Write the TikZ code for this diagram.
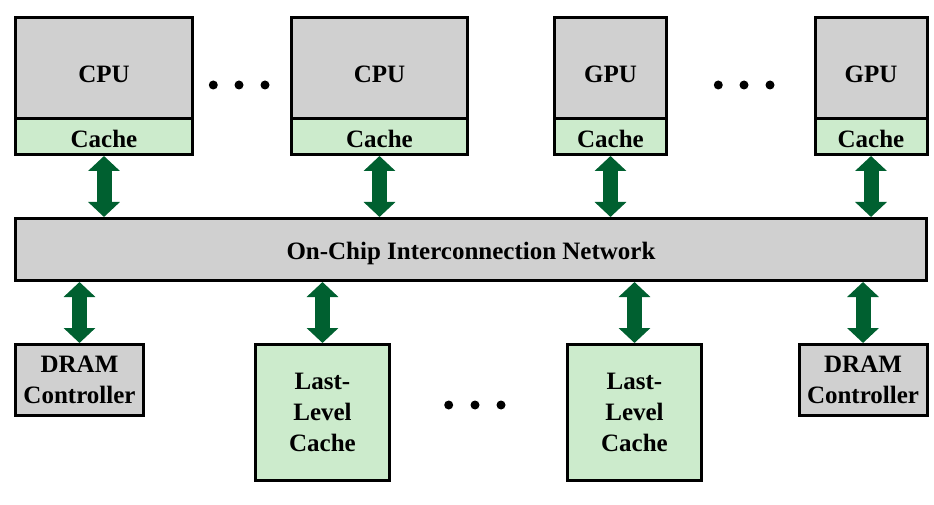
\documentclass[tikz,border=0pt]{standalone}
\usepackage{fontspec}
\setmainfont{Liberation Serif}
\usetikzlibrary{arrows.meta}
\definecolor{boxgray}{RGB}{208,208,208}
\definecolor{cachegreen}{RGB}{204,235,204}
\definecolor{arrowgreen}{RGB}{0,96,48}
\begin{document}
\begin{tikzpicture}[x=1pt,y=-1pt,
  blk/.style={draw=black, line width=3pt, inner sep=0pt, align=center,
    font=\bfseries\fontsize{25}{31}\selectfont},
  graybox/.style={blk, fill=boxgray},
  greenbox/.style={blk, fill=cachegreen},
  proc/.style={graybox, minimum height=101.5pt, text height=28pt, text depth=0pt},
  cachebox/.style={greenbox, minimum height=35.5pt, text height=21pt, text depth=0pt},
  dram/.style={graybox, minimum width=128pt, minimum height=71pt},
  llc/.style={greenbox, minimum width=134pt, minimum height=136pt},
  bus/.style={line width=15pt, color=arrowgreen,
    {Triangle[width=31pt,length=15pt]}-{Triangle[width=31pt,length=15pt]}},
  dot/.style={fill=black}
]
\useasboundingbox (0,0) rectangle (934,505);

% processors
\node[proc, minimum width=177pt] (cpu1) at (104,68.25) {CPU};
\node[cachebox, minimum width=177pt] (c1) at (104,136.75) {Cache};
\node[proc, minimum width=176pt] (cpu2) at (379.5,68.25) {CPU};
\node[cachebox, minimum width=176pt] (c2) at (379.5,136.75) {Cache};
\node[proc, minimum width=112pt] (gpu1) at (610.5,68.25) {GPU};
\node[cachebox, minimum width=112pt] (c3) at (610.5,136.75) {Cache};
\node[proc, minimum width=112pt] (gpu2) at (871,68.25) {GPU};
\node[cachebox, minimum width=112pt] (c4) at (871,136.75) {Cache};

% network
\node[graybox, minimum width=911pt, minimum height=62pt, text height=25.6pt, text depth=6pt]
  (net) at (471,249.5) {On-Chip Interconnection Network};

% bottom row
\node[dram] (d1) at (79.5,380) {DRAM\\Controller};
\node[llc] (l1) at (322.5,412.5) {Last-\\Level\\Cache};
\node[llc] (l2) at (634.5,412.5) {Last-\\Level\\Cache};
\node[dram] (d2) at (863,380) {DRAM\\Controller};

% arrows
\foreach \c in {c1,c2,c3,c4}
  \draw[bus] (\c.south) -- (\c.south |- net.north);
\foreach \b in {d1,l1,l2,d2}
  \draw[bus] (\b.north |- net.south) -- (\b.north);

% ellipses
\foreach \x in {213.3,239,265}
  \fill[dot] (\x,85) circle[radius=4.5pt];
\foreach \x in {718.3,744,770}
  \fill[dot] (\x,85) circle[radius=4.5pt];
\foreach \x in {448.7,475,501}
  \fill[dot] (\x,405) circle[radius=4.5pt];
\end{tikzpicture}
\end{document}
